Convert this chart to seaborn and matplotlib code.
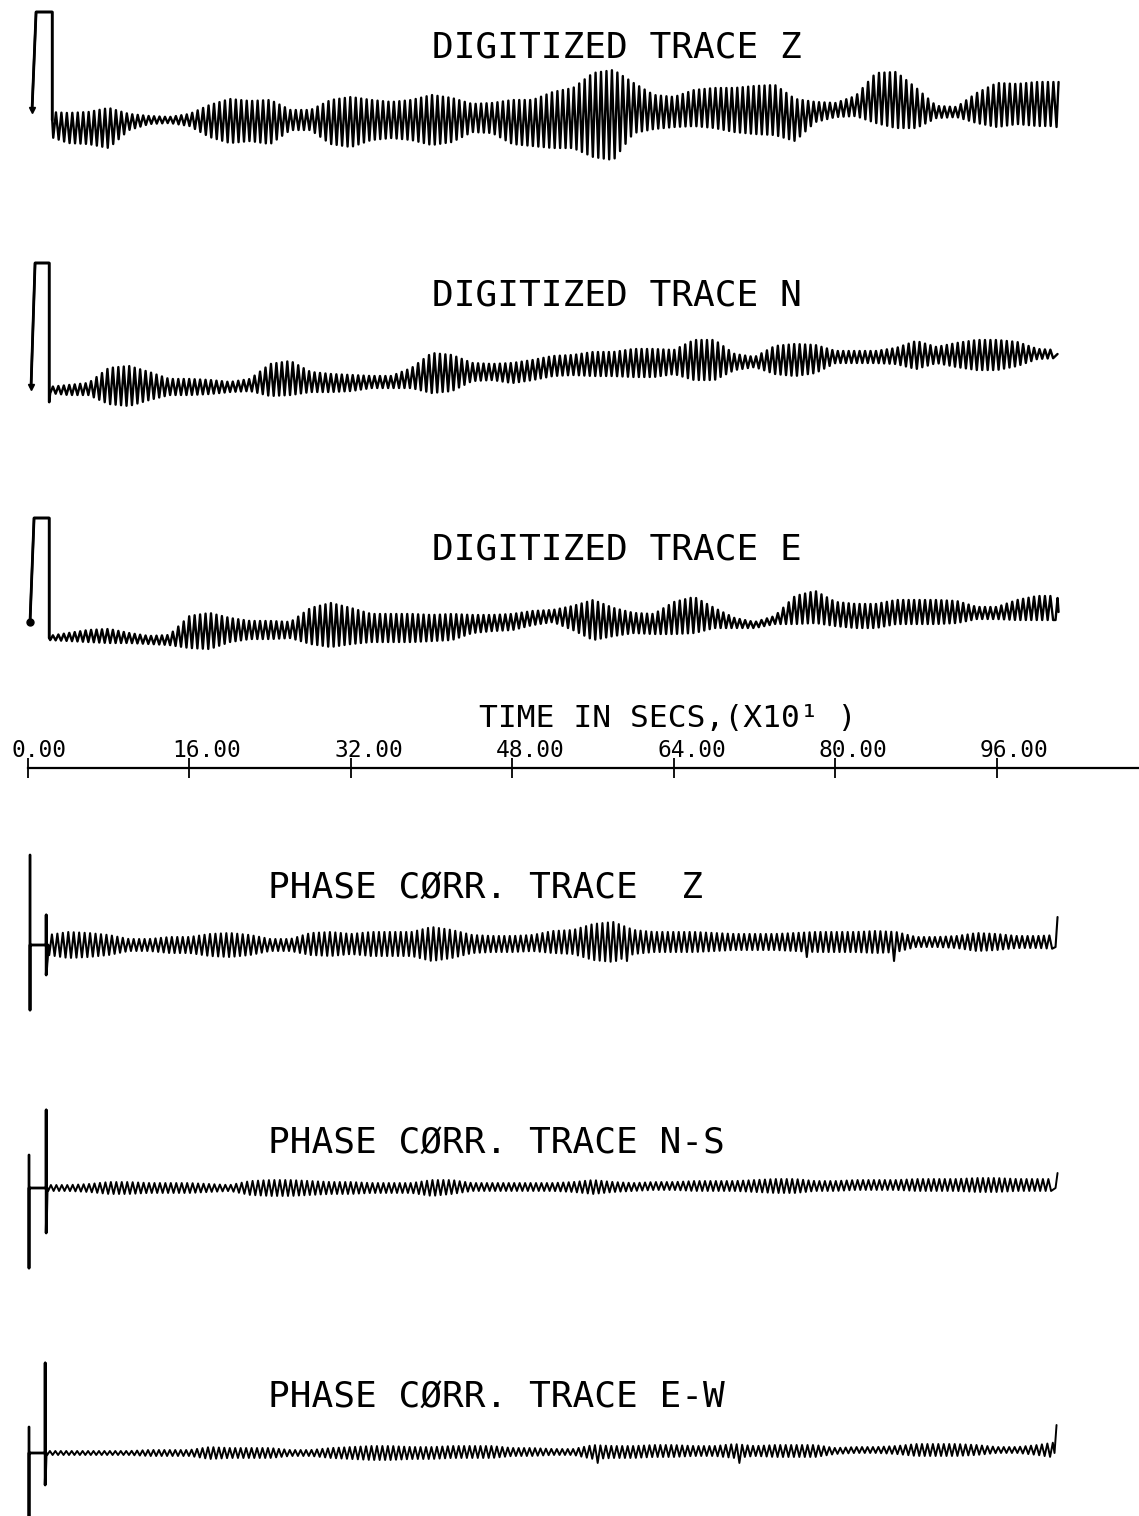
import numpy as np
import matplotlib
matplotlib.use("Agg")
import matplotlib.pyplot as plt
import seaborn as sns

sns.set_style("white")
plt.rcParams["font.family"] = ["DejaVu Sans Mono", "DejaVu Sans"]
plt.rcParams["text.color"] = "black"
plt.rcParams["xtick.color"] = "black"

# ---------------------------------------------------------------- time axis
TICK_VALUES = [0, 16, 32, 48, 64, 80, 96]
TICK_LABELS = ["0.00", "16.00", "32.00", "48.00", "64.00", "80.00", "96.00"]
AXIS_LABEL = "TIME IN SECS,(X10\u00b9 )"

# envelope knots (time units of 10 s), one every 2 units
KNOT_T = [2, 4, 6, 8, 10, 12, 14, 16, 18, 20, 22, 24, 26, 28, 30, 32, 34, 36,
          38, 40, 42, 44, 46, 48, 50, 52, 54, 56, 58, 60, 62, 64, 66, 68, 70,
          72, 74, 76, 78, 80, 82, 84, 86, 88, 90, 92, 94, 96, 98, 100, 102]
HALF_PERIOD = 0.27   # half of the dominant ~5.4 s oscillation

# ---------------------------------------------------------- digitized Z
Z_TITLE = "DIGITIZED TRACE Z"
Z_BASE = [-4, -8, -8, -8, -2, 0, 0, 0, -1, -1,
          -1, -2, 0, 0, -2, -2, 0, 0, 0, 0,
          0, 2, 2, -2, -3, 0, 2, 5, 5, 12,
          8, 8, 12, 12, 10, 10, 10, 0, 8, 10,
          14, 22, 20, 12, 8, 8, 12, 15, 16, 16,
          16]
Z_AMP = [12, 15, 16, 20, 8, 4, 3, 6, 16, 22,
         20, 22, 10, 10, 22, 25, 20, 18, 20, 25,
         22, 14, 15, 22, 23, 28, 30, 42, 45, 25,
         17, 15, 18, 20, 22, 24, 25, 21, 10, 7,
         10, 25, 28, 20, 6, 5, 15, 22, 20, 22,
         22]
Z_PULSE_T = [0.4, 0.8, 2.4, 2.4]
Z_PULSE_A = [10, 108, 108, 0]
Z_TAIL_T = [101.9, 102.1]
Z_TAIL_A = [-7, 38]

# ---------------------------------------------------------- digitized N
N_TITLE = "DIGITIZED TRACE N"
N_BASE = [0, 0, 1, 4, 4, 4, 3, 3, 3, 3,
          5, 10, 12, 8, 7, 7, 8, 8, 12, 17,
          17, 18, 18, 17, 20, 24, 25, 26, 26, 27,
          27, 28, 30, 30, 28, 28, 30, 30, 31, 33,
          33, 33, 34, 35, 35, 35, 35, 35, 36, 36,
          36]
N_AMP = [3, 5, 6, 18, 20, 14, 8, 8, 7, 5,
         6, 16, 17, 10, 9, 8, 6, 6, 10, 20,
         18, 9, 8, 10, 10, 10, 10, 12, 12, 14,
         14, 12, 20, 20, 8, 5, 14, 16, 14, 6,
         6, 6, 8, 14, 8, 12, 15, 15, 12, 5,
         4]
N_PULSE_T = [0.3, 0.7, 2.1, 2.1]
N_PULSE_A = [3, 127, 127, -12]
N_TAIL_T = [102.0]
N_TAIL_A = [36]

# ---------------------------------------------------------- digitized E
E_TITLE = "DIGITIZED TRACE E"
E_BASE = [0, 1, 2, 2, 0, -2, -2, 6, 7, 8,
          8, 8, 8, 12, 13, 12, 10, 10, 10, 10,
          11, 14, 15, 16, 20, 22, 20, 18, 16, 15,
          14, 20, 23, 20, 15, 13, 18, 28, 31, 24,
          22, 22, 26, 26, 26, 26, 25, 25, 28, 30,
          30]
E_AMP = [2, 4, 6, 7, 5, 4, 5, 16, 18, 12,
         9, 9, 8, 18, 22, 18, 14, 14, 14, 13,
         13, 9, 8, 8, 7, 6, 12, 20, 14, 10,
         10, 16, 18, 10, 5, 3, 4, 14, 16, 12,
         12, 12, 12, 12, 12, 11, 6, 6, 10, 12,
         12]
E_PULSE_T = [0.2, 0.6, 2.1, 2.1]
E_PULSE_A = [16, 120, 120, 0]
E_TAIL_T = [101.8, 102.0, 102.1]
E_TAIL_A = [18, 40, 26]

# ---------------------------------------------------- phase corrected Z
PZ_TITLE = "PHASE C\u00d8RR. TRACE  Z"
PZ_BASE = [0] * 13 + [1] * 11 + [2] + [3] * 26
PZ_AMP = [10, 13, 12, 10, 6, 6, 8, 8, 11, 12,
          10, 6, 6, 11, 12, 10, 12, 12, 12, 17,
          14, 9, 8, 8, 8, 11, 12, 18, 20, 12,
          10, 10, 10, 9, 8, 8, 8, 9, 10, 10,
          10, 11, 10, 5, 5, 6, 9, 8, 6, 6,
          7]
PZ_PULSE_T = [0.2, 0.2, 0.2, 1.8, 1.8, 1.8, 2.0]
PZ_PULSE_A = [90, -65, 0, 0, 30, -30, 0]
PZ_SPIKE_T = [59.5, 77.0, 85.8]
PZ_SPIKE_A = [-16, -12, -16]
PZ_TAIL_T = [101.8, 102.0]
PZ_TAIL_A = [-2, 28]

# -------------------------------------------------- phase corrected N-S
PNS_TITLE = "PHASE C\u00d8RR. TRACE N-S"
PNS_BASE = [0] * 20 + [1] * 10 + [2] * 10 + [3] * 11
PNS_AMP = [3, 3, 4, 6, 6, 5, 5, 5, 4, 3,
           7, 8, 8, 7, 6, 6, 5, 5, 5, 8,
           7, 4, 4, 4, 4, 4, 5, 7, 5, 4,
           4, 4, 5, 5, 5, 6, 7, 7, 5, 5,
           5, 5, 5, 6, 6, 6, 7, 7, 6, 6,
           6]
PNS_PULSE_T = [0.1, 0.1, 0.1, 1.8, 1.8, 1.8, 1.9]
PNS_PULSE_A = [33, -80, 0, 0, 78, -45, 0]
PNS_TAIL_T = [101.8, 102.0]
PNS_TAIL_A = [0, 15]

# -------------------------------------------------- phase corrected E-W
PEW_TITLE = "PHASE C\u00d8RR. TRACE E-W"
PEW_BASE = [0] * 20 + [1] * 10 + [2] * 10 + [3] * 11
PEW_AMP = [2, 2, 2, 2, 2, 3, 3, 3, 6, 5,
           5, 5, 3, 3, 5, 6, 7, 7, 6, 6,
           6, 6, 6, 4, 4, 3, 3, 7, 6, 6,
           6, 6, 5, 5, 7, 5, 6, 6, 6, 3,
           3, 3, 4, 6, 6, 6, 5, 3, 3, 5,
           8]
PEW_PULSE_T = [0.1, 0.1, 0.1, 1.7, 1.7, 1.7, 1.8]
PEW_PULSE_A = [26, -75, 0, 0, 90, -32, 0]
PEW_SPIKE_T = [56.5, 70.5]
PEW_SPIKE_A = [-10, -10]
PEW_TAIL_T = [101.7, 101.9]
PEW_TAIL_A = [0, 28]


def wiggle(start, end, base, amp, first_sign=-1):
    """Alternating extrema of the oscillation between start and end."""
    n = int((end - start) / HALF_PERIOD)
    t = start + HALF_PERIOD * np.arange(n + 1)
    b = np.interp(t, KNOT_T, base)
    a = np.interp(t, KNOT_T, amp)
    sign = first_sign * (-1.0) ** np.arange(n + 1)
    return t, b + sign * a


def build_trace(pulse_t, pulse_a, base, amp, tail_t, tail_a,
                spike_t=(), spike_a=()):
    start = pulse_t[-1] + 0.1
    wt, wa = wiggle(start, 101.6, base, amp)
    for st, sa in zip(spike_t, spike_a):
        idx = np.argsort(np.abs(wt - st))
        for i in idx:
            if np.sign(wa[i] - np.interp(wt[i], KNOT_T, base)) == np.sign(sa):
                wa[i] = sa
                break
    t = np.concatenate([pulse_t, wt, tail_t])
    a = np.concatenate([pulse_a, wa, tail_a])
    return t, a


FIG_W, FIG_H = 1139, 1516
fig = plt.figure(figsize=(FIG_W / 100, FIG_H / 100), dpi=100)
fig.patch.set_facecolor("white")

X_LIM = (-2.774, 110.07)
BAND = 280  # vertical span of each trace panel (pixel-sized units)

traces = [
    # title, baseline (px from top), title x, title y, pulse, envelope, tail, spikes, lw
    (Z_TITLE, 120, 40.0, 63, Z_PULSE_T, Z_PULSE_A, Z_BASE, Z_AMP,
     Z_TAIL_T, Z_TAIL_A, (), (), 1.7, "v"),
    (N_TITLE, 390, 40.0, 85, N_PULSE_T, N_PULSE_A, N_BASE, N_AMP,
     N_TAIL_T, N_TAIL_A, (), (), 1.7, "v"),
    (E_TITLE, 638, 40.0, 78, E_PULSE_T, E_PULSE_A, E_BASE, E_AMP,
     E_TAIL_T, E_TAIL_A, (), (), 1.7, "o"),
    (PZ_TITLE, 945, 23.8, 47, PZ_PULSE_T, PZ_PULSE_A, PZ_BASE, PZ_AMP,
     PZ_TAIL_T, PZ_TAIL_A, PZ_SPIKE_T, PZ_SPIKE_A, 1.5, None),
    (PNS_TITLE, 1188, 23.8, 35, PNS_PULSE_T, PNS_PULSE_A, PNS_BASE, PNS_AMP,
     PNS_TAIL_T, PNS_TAIL_A, (), (), 1.4, None),
    (PEW_TITLE, 1453, 23.8, 46, PEW_PULSE_T, PEW_PULSE_A, PEW_BASE, PEW_AMP,
     PEW_TAIL_T, PEW_TAIL_A, PEW_SPIKE_T, PEW_SPIKE_A, 1.4, None),
]

for (title, y0, tx, ty, p_t, p_a, base, amp, tl_t, tl_a,
     sp_t, sp_a, lw, marker) in traces:
    bottom = 1 - (y0 + BAND / 2) / FIG_H
    ax = fig.add_axes([0, bottom, 1, BAND / FIG_H])
    ax.set_facecolor("none")
    t, a = build_trace(p_t, p_a, base, amp, tl_t, tl_a, sp_t, sp_a)
    sns.lineplot(x=t, y=a, ax=ax, sort=False, estimator=None,
                 color="black", linewidth=lw)
    # thicker calibration pulse drawn over the start of the trace
    sns.lineplot(x=p_t, y=p_a, ax=ax, sort=False, estimator=None,
                 color="black", linewidth=2.0)
    if marker is not None:
        ax.plot(p_t[0], p_a[0], marker=marker, color="black",
                markersize=5, linestyle="none")
    ax.text(tx, ty, title, fontsize=26, ha="left", va="baseline",
            color="black")
    ax.set_xlim(*X_LIM)
    ax.set_ylim(-BAND / 2, BAND / 2)
    ax.axis("off")

# time scale between the two groups of traces
AXIS_Y = 768
ax_t = fig.add_axes([0, 1 - AXIS_Y / FIG_H, 1, 0.0001])
ax_t.set_facecolor("none")
ax_t.set_xlim(*X_LIM)
ax_t.set_ylim(0, 1)
for side in ("left", "right", "top"):
    ax_t.spines[side].set_visible(False)
ax_t.spines["bottom"].set_color("black")
ax_t.spines["bottom"].set_linewidth(1.6)
ax_t.spines["bottom"].set_bounds(TICK_VALUES[0], X_LIM[1])
ax_t.set_yticks([])
ax_t.set_xticks(TICK_VALUES)
ax_t.set_xticklabels([])
ax_t.tick_params(axis="x", direction="inout", length=14, width=1.3,
                 bottom=True, color="black")
for v, lbl in zip(TICK_VALUES, TICK_LABELS):
    ax_t.annotate(lbl, xy=(v, 0), xycoords=("data", "axes fraction"),
                  xytext=(-12.2, 8), textcoords="offset points",
                  ha="left", va="baseline", fontsize=16.5, color="black")
ax_t.annotate(AXIS_LABEL, xy=(44.7, 0), xycoords=("data", "axes fraction"),
              xytext=(0, 29.5), textcoords="offset points",
              ha="left", va="baseline", fontsize=22.5, color="black")

fig.savefig("out.png", dpi=100, facecolor="white")
